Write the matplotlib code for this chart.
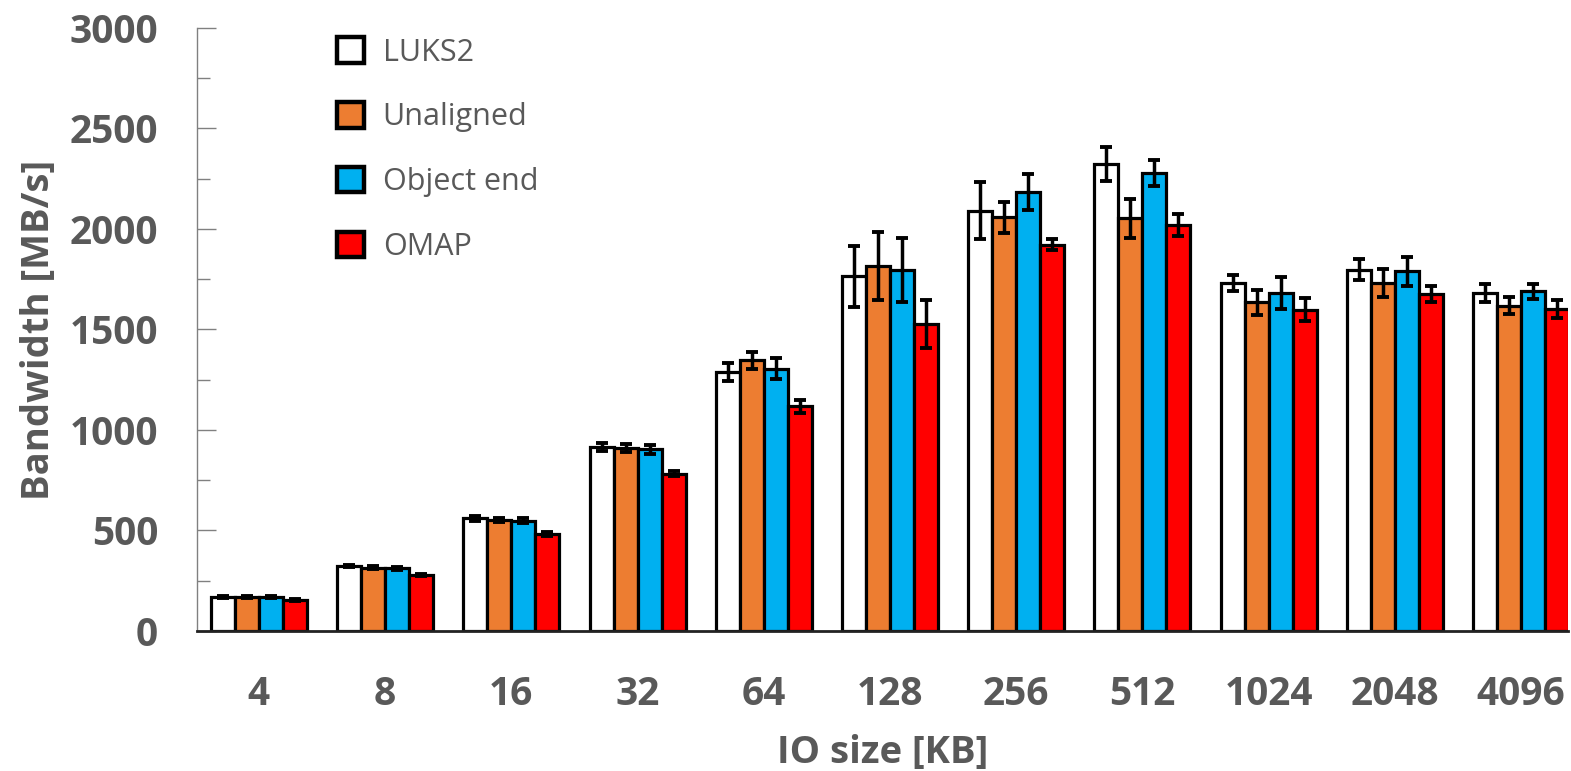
import numpy as np
import matplotlib.pyplot as plt

plt.rcParams['font.family'] = ['Open Sans', 'DejaVu Sans']

io_sizes = ['4', '8', '16', '32', '64', '128', '256', '512', '1024', '2048', '4096']
series = ['LUKS2', 'Unaligned', 'Object end', 'OMAP']
colors = ['#FFFFFF', '#ED7D31', '#00B0F0', '#FF0000']

luks2 = [170, 324, 560, 915, 1288, 1765, 2091, 2323, 1732, 1797, 1682]
unaligned = [170, 315, 551, 910, 1346, 1818, 2058, 2053, 1636, 1732, 1619]
object_end = [168, 311, 548, 905, 1305, 1798, 2182, 2279, 1682, 1790, 1689]
omap = [154, 278, 482, 783, 1118, 1528, 1922, 2020, 1598, 1677, 1603]

luks2_err = [5, 6, 12, 18, 45, 151, 142, 85, 41, 52, 45]
unaligned_err = [5, 6, 10, 18, 43, 169, 78, 97, 62, 70, 41]
object_end_err = [5, 6, 12, 22, 51, 159, 90, 65, 78, 72, 39]
omap_err = [4, 5, 8, 14, 33, 121, 28, 54, 58, 41, 46]

values = [luks2, unaligned, object_end, omap]
errors = [luks2_err, unaligned_err, object_end_err, omap_err]

gray = '#595959'
fig = plt.figure(figsize=(15.71, 7.71), dpi=100)
ax = fig.add_axes([0.1254, 0.1816, 0.8726, 0.7821])

x = np.arange(len(io_sizes))
w = 0.19
for i, (name, vals, errs, col) in enumerate(zip(series, values, errors, colors)):
    ax.bar(x + (i - 1.5) * w, vals, w, yerr=errs, color=col, edgecolor='black',
           linewidth=2.3, label=name, zorder=2,
           error_kw=dict(ecolor='black', elinewidth=2.5, capsize=4, capthick=2.8, zorder=3))

ax.set_xlim(-0.49, 10.37)
ax.set_ylim(0, 3000)
ax.set_yticks(np.arange(0, 3001, 500))
ax.set_yticks(np.arange(0, 3001, 250), minor=True)
ax.set_xticks(x)
ax.set_xticklabels(io_sizes)
ax.tick_params(axis='y', which='major', direction='in', length=14, width=1, color='#808080',
               labelsize=28, labelcolor=gray, pad=28)
ax.tick_params(axis='y', which='minor', direction='in', length=9, width=1, color='#808080')
ax.tick_params(axis='x', length=0, labelsize=28, labelcolor=gray, pad=32)
for lab in ax.get_xticklabels() + ax.get_yticklabels():
    lab.set_fontweight('bold')

ax.spines['top'].set_visible(False)
ax.spines['right'].set_visible(False)
ax.spines['left'].set_color('#808080')
ax.spines['left'].set_linewidth(1)
ax.spines['bottom'].set_color('#222222')
ax.spines['bottom'].set_linewidth(2)

ax.set_xlabel('IO size [KB]', fontsize=27.5, fontweight='bold', color=gray, labelpad=14)
ax.set_ylabel('Bandwidth [MB/s]', fontsize=27.5, fontweight='bold', color=gray, labelpad=8)

leg = ax.legend(loc='upper left', bbox_to_anchor=(0.082, 1.03), frameon=False, fontsize=22,
                labelcolor=gray, handlelength=0.9, handleheight=0.9, handletextpad=0.6,
                labelspacing=1.13)
for h in leg.legend_handles:
    h.set_linewidth(3.2)

fig.savefig('out.png', dpi=100)
